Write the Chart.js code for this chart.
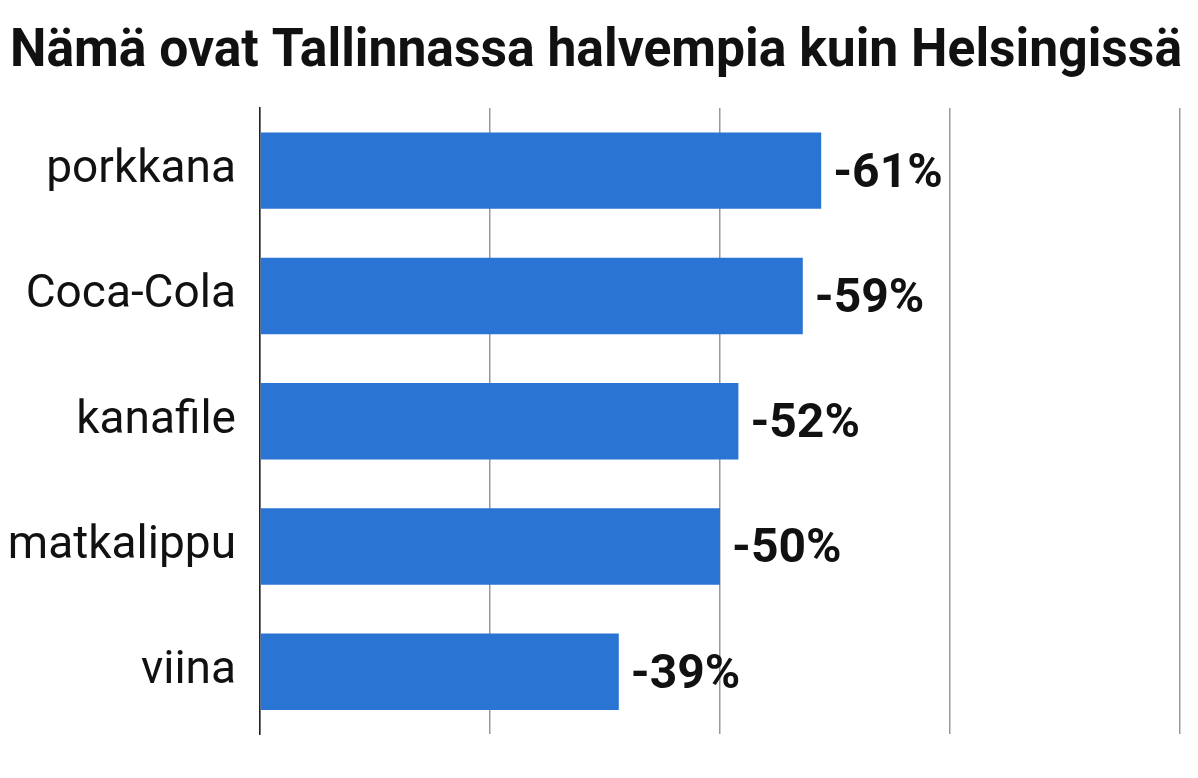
<!DOCTYPE html>
<html>
<head>
<meta charset="utf-8">
<script src="https://cdn.jsdelivr.net/npm/chart.js@4"></script>
<style>
  html, body { margin: 0; padding: 0; background: #fff; }
  #wrap { width: 1198px; height: 778px; }
</style>
</head>
<body>
<div id="wrap"><canvas id="chart"></canvas></div>
<script>
const titleText = 'Nämä ovat Tallinnassa halvempia kuin Helsingissä';
const categories = ['porkkana', 'Coca-Cola', 'kanafile', 'matkalippu', 'viina'];
const values = [61, 59, 52, 50, 39];
const xTicks = [0, 25, 50, 75, 100];

// title drawn condensed to fit the width
const titlePlugin = {
    id: 'condensedTitle',
    afterDraw(chart) {
        const ctx = chart.ctx;
        ctx.save();
        ctx.font = 'bold 54px Roboto';
        ctx.fillStyle = '#111';
        ctx.textBaseline = 'middle';
        ctx.fillText(titleText, 10, 52, 1172);
        ctx.restore();
    }
};

// value labels at the end of each bar
const valueLabels = {
    id: 'valueLabels',
    afterDatasetsDraw(chart) {
        const ctx = chart.ctx;
        const meta = chart.getDatasetMeta(0);
        ctx.save();
        ctx.font = 'bold 48px Roboto';
        ctx.fillStyle = '#111';
        ctx.textBaseline = 'middle';
        meta.data.forEach((bar, i) => {
            ctx.fillText('-' + values[i] + '%', bar.x + 12, bar.y + 4);
        });
        ctx.restore();
    }
};

new Chart(document.getElementById('chart'), {
    type: 'bar',
    data: {
        labels: categories,
        datasets: [{
            data: values,
            backgroundColor: '#2a75d3',
            categoryPercentage: 0.61,
            barPercentage: 1
        }]
    },
    options: {
        indexAxis: 'y',
        responsive: true,
        maintainAspectRatio: false,
        animation: false,
        layout: { padding: { top: 108, right: 18, bottom: 0, left: 0 } },
        plugins: {
            legend: { display: false },
            title: { display: false },
            tooltip: { enabled: false }
        },
        scales: {
            x: {
                min: 0,
                max: 100,
                afterBuildTicks: axis => { axis.ticks = xTicks.map(v => ({ value: v })); },
                afterFit: axis => { axis.height = 18; },
                ticks: { display: false },
                grid: { color: '#999', lineWidth: 1.5, drawTicks: false },
                border: { display: false }
            },
            y: {
                afterFit: axis => { axis.width = 260; },
                ticks: {
                    color: '#111',
                    font: { family: 'Roboto', size: 46 },
                    padding: 16
                },
                grid: { display: false },
                border: { color: '#222', width: 1.5 }
            }
        }
    },
    plugins: [titlePlugin, valueLabels]
});
</script>
</body>
</html>
